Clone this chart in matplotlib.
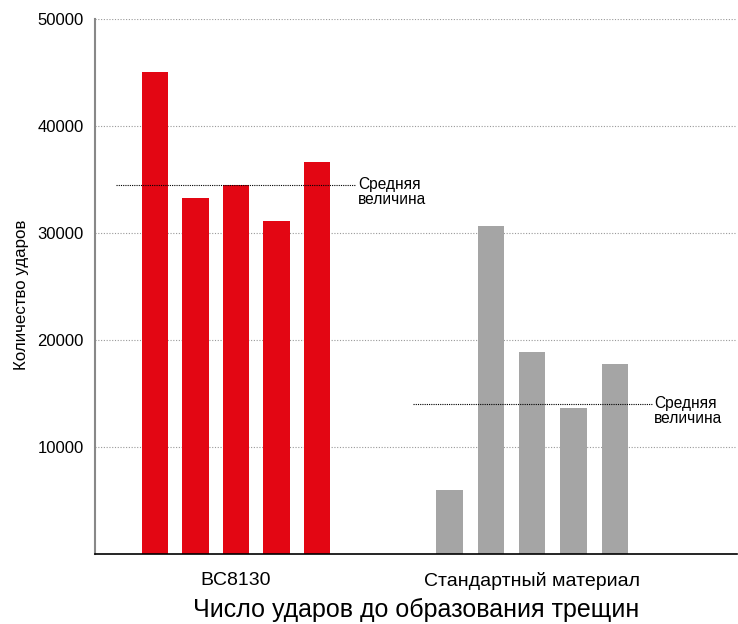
import numpy as np
import matplotlib.pyplot as plt

plt.rcParams['font.family'] = ['Liberation Sans', 'DejaVu Sans']

groups = ['BC8130', 'Стандартный материал']
bc8130 = [45000, 33300, 34500, 31100, 36600]
standard = [6000, 30700, 18900, 13600, 17800]
mean_values = [34500, 14000]
mean_label = 'Средняя\nвеличина'
yticks = [10000, 20000, 30000, 40000, 50000]

red = '#e30613'
grey = '#a5a5a5'

fig = plt.figure(figsize=(7.38, 6.24), dpi=100)
ax = fig.add_axes([95 / 738, 1 - 554 / 624, 642 / 738, 535 / 624])

x_red = 1.48 + np.arange(len(bc8130))
x_grey = 8.75 + np.arange(len(standard)) * 1.02
ax.bar(x_red, bc8130, width=0.65, color=red, zorder=2)
ax.bar(x_grey, standard, width=0.65, color=grey, zorder=2)

# lines for the mean values + labels
ax.hlines(mean_values[0], 0.51, 6.42, colors='black', linestyles=(0, (1, 1)), linewidth=0.8, zorder=3)
ax.annotate(mean_label, (6.5, mean_values[0]), xytext=(0, 6), textcoords='offset points',
            fontsize=11.2, va='top', ha='left', linespacing=1.05)
ax.hlines(mean_values[1], 7.85, 13.78, colors='black', linestyles=(0, (1, 1)), linewidth=0.8, zorder=3)
ax.annotate(mean_label, (13.8, mean_values[1]), xytext=(0, 6), textcoords='offset points',
            fontsize=11.2, va='top', ha='left', linespacing=1.05)

ax.set_xlim(0, 15.85)
ax.set_ylim(0, 50000)
ax.set_yticks(yticks)
ax.set_yticklabels([str(v) for v in yticks], fontsize=12)
ax.yaxis.grid(True, color='#999999', linestyle=(0, (1, 1.5)), linewidth=0.8, zorder=0)
ax.set_axisbelow(True)
ax.tick_params(axis='y', length=0, pad=8)

ax.set_xticks([x_red.mean(), x_grey.mean()])
ax.set_xticklabels(groups, fontsize=14)
ax.tick_params(axis='x', length=0, pad=13)

ax.spines['top'].set_visible(False)
ax.spines['right'].set_visible(False)
ax.spines['left'].set_color('#888888')
ax.spines['left'].set_linewidth(1.5)
ax.spines['bottom'].set_color('black')
ax.spines['bottom'].set_linewidth(1.2)

ax.set_ylabel('Количество ударов', fontsize=12.2, labelpad=6, y=0.484)
ax.set_xlabel('Число ударов до образования трещин', fontsize=18, labelpad=6)

fig.savefig('out.png', dpi=100)
